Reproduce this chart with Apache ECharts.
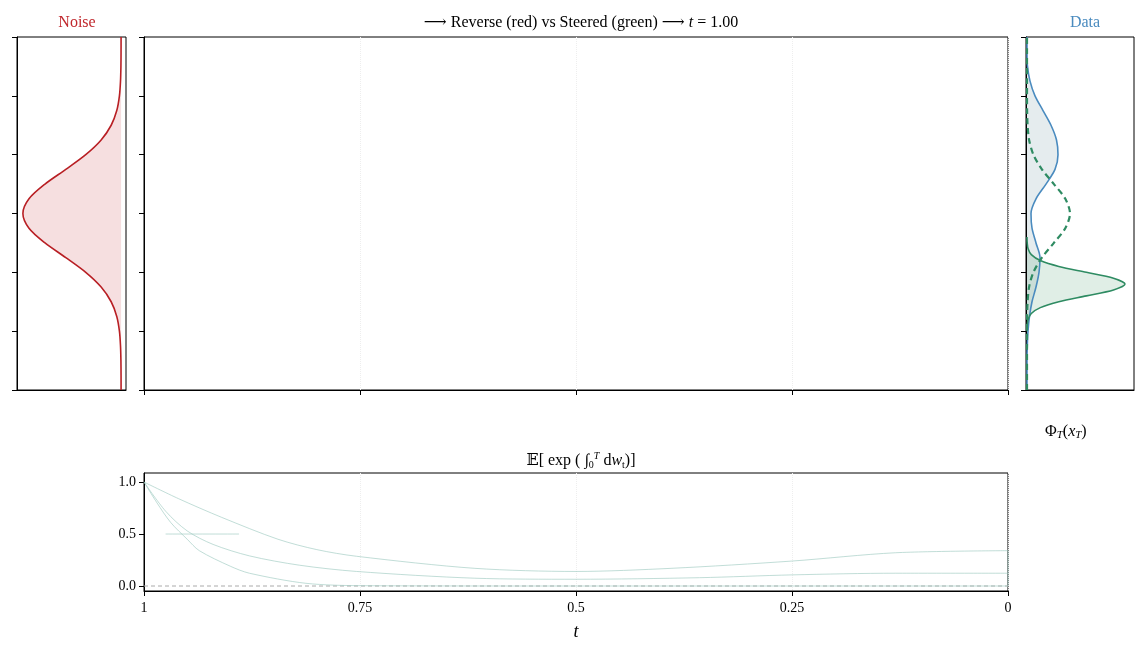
<!DOCTYPE html>
<html><head><meta charset="utf-8">
<script src="https://cdn.jsdelivr.net/npm/echarts@6/dist/echarts.min.js"></script>
<style>html,body{margin:0;background:#fff}#c{width:1145px;height:654px}</style>
</head><body><div id="c"></div>
<script>
// density grid (state value) shared by noise and data panels
const gridY = [-3,-2.75,-2.5,-2.25,-2,-1.75,-1.5,-1.25,-1,-0.75,-0.5,-0.25,0,0.25,0.5,0.75,1,1.25,1.5,1.75,2,2.25,2.5,2.75,3];
const noiseDensity = [0.0001,0.0004,0.0017,0.006,0.017,0.044,0.101,0.203,0.36,0.563,0.775,0.938,1,0.938,0.775,0.563,0.36,0.203,0.101,0.044,0.017,0.006,0.0017,0.0004,0.0001];
const dataDensity = [0,0,0,0.3,1,2.5,5,9,12,13,9,5,4,9,19,28,31,29.5,24,16,8,3,0.5,0,0];
const steeredDashed = [0,0,0,0,0,0.1,0.6,2.1,6.4,14.9,26.9,38.3,43,38.3,26.9,14.9,6.4,2.1,0.6,0.1,0,0,0,0,0];
const steeredY = [-2,-1.9,-1.8,-1.7,-1.6,-1.5,-1.4,-1.3,-1.2,-1.1,-1,-0.9,-0.8,-0.7,-0.6,-0.5,-0.4];
const steeredSolid = [0,0.2,1.1,4.3,13.3,31.8,59.4,86.5,98,86.5,59.4,31.8,13.3,4.3,1.1,0.2,0];

// bottom panel: E[exp(int dw)] paths over t (1 -> 0)
const pathA = [[1,1],[0.96,0.84],[0.91,0.66],[0.845,0.45],[0.8,0.35],[0.754,0.286],[0.617,0.17],[0.5,0.14],[0.39,0.17],[0.25,0.24],[0.13,0.32],[0,0.34],[0,0]];
const pathB = [[1,1],[0.975,0.72],[0.95,0.53],[0.92,0.4],[0.878,0.29],[0.82,0.2],[0.754,0.14],[0.617,0.075],[0.5,0.065],[0.357,0.08],[0.25,0.107],[0.13,0.123],[0,0.123]];
const pathC = [[1,1],[0.985,0.8],[0.969,0.61],[0.95,0.45],[0.936,0.34],[0.9,0.19],[0.878,0.123],[0.8125,0.026],[0.747,0.003],[0.5,0],[0.25,0],[0,0]];
const pathD = [[0.975,0.5],[0.89,0.5]];
const tTicks = [1,0.75,0.5,0.25,0];
const eTicks = [0,0.5,1];

const font = 'Liberation Serif, DejaVu Serif, serif';
const pairs = (xs, ys) => xs.map((x, i) => [x, ys[i]]);

const fillSeries = (idx, data, color) => ({
  type: 'custom', xAxisIndex: idx, yAxisIndex: idx, data, silent: true, z: 1,
  renderItem: (params, api) => {
    if (params.dataIndex !== 0) return null;
    const pts = data.map((d) => api.coord(d));
    pts.push(api.coord([0, data[data.length - 1][1]]));
    pts.push(api.coord([0, data[0][1]]));
    return {type: 'polygon', shape: {points: pts, smooth: 0.3}, style: {fill: color}};
  },
});

const blackLine = {show: true, onZero: false, lineStyle: {color: '#000'}};
const densityY = (gi) => ({
  gridIndex: gi, type: 'value', min: -3, max: 3, interval: 1, position: 'left',
  axisLine: blackLine,
  axisTick: {show: true, length: 5, lineStyle: {color: '#000'}},
  axisLabel: {show: false}, splitLine: {show: false},
});
const frameX = (gi, extra) => Object.assign({
  gridIndex: gi, type: 'value', position: 'bottom', axisLabel: {show: false}, axisTick: {show: false},
  splitLine: {show: false}, axisLine: blackLine,
}, extra);

const chart = echarts.init(document.getElementById('c'));
chart.setOption({
  backgroundColor: '#fff',
  animation: false,
  textStyle: {fontFamily: font},
  grid: [
    {left: 17, top: 37, width: 109, height: 353, show: true, borderColor: '#000', borderWidth: 1},
    {left: 144, top: 37, width: 864, height: 353, show: true, borderColor: '#000', borderWidth: 1},
    {left: 1026, top: 37, width: 108, height: 353, show: true, borderColor: '#000', borderWidth: 1},
    {left: 144, top: 473, width: 864, height: 118, show: true, borderColor: '#000', borderWidth: 1},
  ],
  title: [
    {text: 'Noise', left: 72, top: 10, textAlign: 'center', textStyle: {fontFamily: font, fontWeight: 'normal', fontSize: 16, color: '#c0282d'}},
    {text: 'Data', left: 1080, top: 10, textAlign: 'center', textStyle: {fontFamily: font, fontWeight: 'normal', fontSize: 16, color: '#4a8bbf'}},
    {text: '⟶ Reverse (red) vs Steered (green) ⟶ {i|t} = 1.00', left: 576, top: 10, textAlign: 'center',
      textStyle: {fontFamily: font, fontWeight: 'normal', fontSize: 16, color: '#000', rich: {i: {fontStyle: 'italic', fontFamily: font, fontSize: 16}}}},
    {text: '𝔼[ exp ( ∫{s|0}{p|T} d{i|w}{s|t})]', left: 576, top: 446, textAlign: 'center',
      textStyle: {fontFamily: font, fontWeight: 'normal', fontSize: 16, color: '#000',
        rich: {i: {fontStyle: 'italic', fontFamily: font, fontSize: 16}, s: {fontSize: 10, fontFamily: font, padding: [8, 0, 0, 0]}, p: {fontSize: 10, fontStyle: 'italic', fontFamily: font, padding: [0, 0, 10, 0]}}}},
    {text: 'Φ{s|T}({i|x}{s|T})', left: 1040, top: 417, textStyle: {fontFamily: font, fontWeight: 'normal', fontSize: 16, color: '#000',
      rich: {i: {fontStyle: 'italic', fontFamily: font, fontSize: 16}, s: {fontStyle: 'italic', fontSize: 11, fontFamily: font, padding: [8, 0, 0, 0]}}}},
  ],
  xAxis: [
    frameX(0, {min: -0.05, max: 1.06, inverse: true}),
    frameX(1, {min: 0, max: 1, interval: 0.25, inverse: true,
      axisTick: {show: true, length: 5, lineStyle: {color: '#000'}},
      splitLine: {show: true, lineStyle: {color: '#eee', type: 'dotted'}}}),
    frameX(2, {min: -1, max: 107}),
    frameX(3, {min: 0, max: 1, interval: 0.25, inverse: true, name: 't', nameLocation: 'middle', nameGap: 32,
      nameTextStyle: {fontFamily: font, fontStyle: 'italic', fontSize: 18, color: '#000'},
      axisTick: {show: true, length: 5, lineStyle: {color: '#000'}},
      axisLabel: {show: true, color: '#000', fontSize: 14, margin: 10, fontFamily: font, formatter: (v) => String(tTicks.find((t) => Math.abs(t - v) < 1e-6))},
      splitLine: {show: true, lineStyle: {color: '#eee', type: 'dotted'}}}),
  ],
  yAxis: [
    densityY(0), densityY(1), densityY(2),
    {gridIndex: 3, type: 'value', min: -0.048, max: 1.087, position: 'left',
      axisLine: blackLine,
      axisTick: {show: true, length: 5, customValues: eTicks, lineStyle: {color: '#000'}},
      axisLabel: {color: '#000', fontSize: 14, fontFamily: font, customValues: eTicks,
        formatter: (v) => v.toFixed(1)},
      splitLine: {show: false}},
  ],
  series: [
    fillSeries(0, pairs(noiseDensity, gridY), 'rgba(192,40,45,0.15)'),
    {type: 'line', xAxisIndex: 0, yAxisIndex: 0, data: pairs(noiseDensity, gridY), smooth: 0.3, showSymbol: false,
      lineStyle: {color: '#b81f24', width: 1.6}},
    fillSeries(2, pairs(dataDensity, gridY), 'rgba(180,200,205,0.35)'),
    fillSeries(2, pairs(steeredSolid, steeredY), 'rgba(46,139,87,0.15)'),
    {type: 'line', xAxisIndex: 2, yAxisIndex: 2, data: pairs(dataDensity, gridY), smooth: 0.3, showSymbol: false,
      lineStyle: {color: '#4a8bbf', width: 1.6}},
    {type: 'line', xAxisIndex: 2, yAxisIndex: 2, data: pairs(steeredDashed, gridY), smooth: 0.3, showSymbol: false,
      lineStyle: {color: '#2e8b62', width: 2.2, type: [6, 4]}},
    {type: 'line', xAxisIndex: 2, yAxisIndex: 2, data: pairs(steeredSolid, steeredY), smooth: 0.3, showSymbol: false,
      lineStyle: {color: '#2e8b62', width: 1.6}},
    {type: 'line', xAxisIndex: 3, yAxisIndex: 3, data: [[1, 0], [0, 0]], showSymbol: false,
      lineStyle: {color: '#aaa', width: 1, type: [4, 3]}},
    ...[pathA, pathB, pathC, pathD].map((p) => ({
      type: 'line', xAxisIndex: 3, yAxisIndex: 3, data: p, smooth: 0.3, showSymbol: false,
      lineStyle: {color: '#9cc9bf', width: 0.9, opacity: 0.7}})),
  ],
});
</script></body></html>
